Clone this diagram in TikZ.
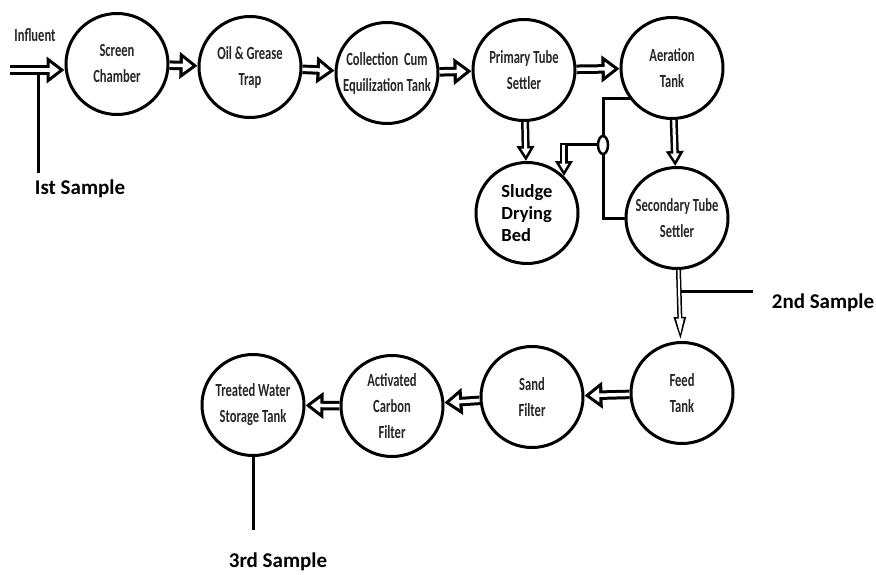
\documentclass[tikz,border=0pt]{standalone}
\usepackage{fontspec}
\setmainfont{Carlito}
\newfontfamily\narrowfont[FakeStretch=0.68]{Carlito}
\usetikzlibrary{arrows.meta,shapes.geometric,calc}

\newcommand{\tanklabel}{\narrowfont\bfseries\fontsize{18.5}{26}\selectfont}
\newcommand{\samplefont}{\bfseries\fontsize{21}{24}\selectfont}

\tikzset{
  tank/.style={ellipse, draw, line width=3pt, minimum width=102pt, minimum height=101pt,
    inner sep=-20pt, align=center, font=\tanklabel, text=black!85},
  % hollow block arrows: black body, white channel on top
  flow/.style={line width=9.5pt, -{Triangle[length=18pt, width=26pt]},
    postaction={draw=white, line width=3.5pt, shorten >=5.2pt,
      -{Triangle[length=9.6pt, width=13.8pt]}}},
  dropflow/.style={line width=8pt, -{Triangle[length=15pt, width=17pt]},
    postaction={draw=white, line width=3pt, shorten >=5.1pt,
      -{Triangle[length=7.4pt, width=8.4pt]}}},
  thinflow/.style={line width=5pt, -{Triangle[length=24pt, width=11pt]},
    postaction={draw=white, line width=2pt, shorten >=6.7pt,
      -{Triangle[length=15.8pt, width=7.2pt]}}},
  pipe/.style={line width=3pt},
  samplelabel/.style={font=\samplefont, inner sep=1pt}
}

\begin{document}
\begin{tikzpicture}[x=1pt, y=-1pt]
  \useasboundingbox (0,0) rectangle (876,575);

  % top row
  \node[tank] (screen) at (117,64) {Screen\\Chamber};
  \node[tank] (trap) at (250,67) {Oil \& Grease\\Trap};
  \node[tank] (equal) at (387,73) {Collection~~Cum\\Equilization Tank};
  \node[tank] (primary) at (524,70) {Primary Tube\\Settler};
  \node[tank] (aeration) at (672,68) {Aeration\\Tank};

  % middle
  \node[tank, align=left, text=black, font=\bfseries\fontsize{18.5}{22}\selectfont] (sludge) at (527,213) {Sludge\\Drying\\Bed};
  \node[tank] (secondary) at (677,218) {Secondary Tube\\Settler};
  \node[draw, ellipse, line width=2.5pt, minimum width=10pt, minimum height=18pt, inner sep=0pt] (valve) at (603,145) {};

  % bottom row
  \node[tank] (feed) at (682,393) {Feed\\Tank};
  \node[tank] (sand) at (532,397) {Sand\\Filter};
  \node[tank] (carbon) at (392,406) {Activated\\Carbon\\Filter};
  \node[tank] (treated) at (253,405) {Treated Water\\Storage Tank};

  % sample labels
  \node[samplelabel] (sample1) at (80,189) {Ist Sample};
  \node[samplelabel] (sample2) at (823,303) {2nd Sample};
  \node[samplelabel] (sample3) at (278,562) {3rd Sample};
  \node[font=\tanklabel, text=black!85] (influent) at (35,35) {Influent};

  % sampling points
  \coordinate (inflow) at (10,70);
  \coordinate (tap1) at (38,70);
  \coordinate (tap2) at ($(secondary.south)!0.3!(feed.north)$);
  \draw[pipe] (tap1) -- ++(0,103);
  \draw[pipe] ([xshift=2pt]tap2) -- ++(72,0);
  \draw[pipe] (treated.south) -- ++(0,73);

  % recycle line
  \coordinate (branch) at (sludge.45 |- valve.west);
  \draw[pipe] (aeration.216) -| (valve.north);
  \draw[pipe] (valve.south) |- (secondary.west);
  \draw[pipe] (valve.west) -- ([xshift=-4pt]branch);
  \draw[dropflow] (branch) -- (sludge.45);

  % flow
  \draw[flow] (inflow) -- (inflow -| screen.west);
  \draw[flow] (screen) -- (trap);
  \draw[flow] (trap) -- (equal);
  \draw[flow] (equal) -- (primary);
  \draw[flow] (primary) -- (aeration);
  \draw[dropflow] (primary) -- (sludge);
  \draw[dropflow] (aeration) -- (secondary);
  \draw[thinflow] (secondary) -- (feed);
  \draw[flow] (feed) -- (sand);
  \draw[flow] (sand) -- (carbon);
  \draw[flow] (carbon) -- (treated);
\end{tikzpicture}
\end{document}
